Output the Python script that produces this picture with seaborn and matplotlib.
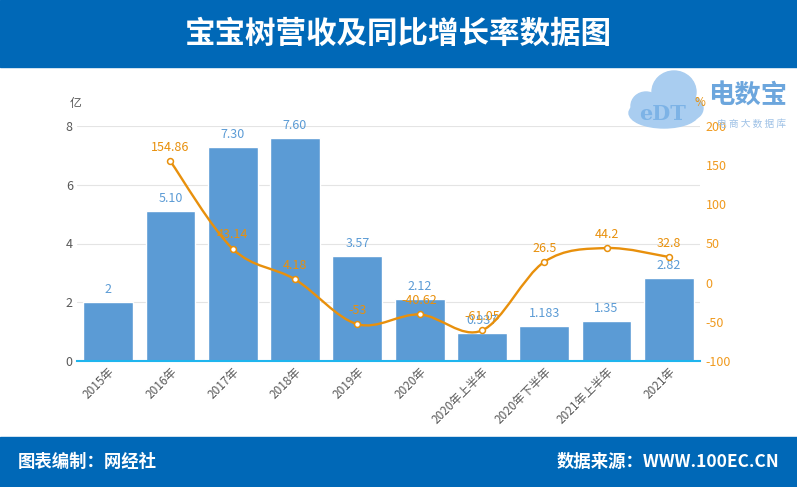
import numpy as np
import matplotlib
matplotlib.use('Agg')
import matplotlib.pyplot as plt
import seaborn as sns
from matplotlib.path import Path
from matplotlib.patches import PathPatch, Rectangle, Ellipse

#data
categories = ['2015年', '2016年', '2017年', '2018年', '2019年', '2020年',
              '2020年上半年', '2020年下半年', '2021年上半年', '2021年']
revenue = [2, 5.10, 7.30, 7.60, 3.57, 2.12, 0.937, 1.183, 1.35, 2.82]
revenue_labels = ['2', '5.10', '7.30', '7.60', '3.57', '2.12', '0.937', '1.183', '1.35', '2.82']
growth = [154.86, 43.14, 4.18, -53, -40.62, -61.05, 26.5, 44.2, 32.8]
growth_labels = ['154.86', '43.14', '4.18', '-53', '-40.62', '-61.05', '26.5', '44.2', '32.8']
left_ticks = [0, 2, 4, 6, 8]
right_ticks = [-100, -50, 0, 50, 100, 150, 200]

sns.set_style('white')
plt.rcParams['font.family'] = ['Noto Sans CJK SC', 'DejaVu Sans']

bar_blue = '#5B9BD5'
orange = '#E8900C'
gray = '#595959'
band = '#0068B7'

fig = plt.figure(figsize=(7.97, 4.87), dpi=100)
W, H = 797, 487

def fx(px):
    return px / W

def fy(py):
    return 1 - py / H

#header and footer bands
fig.patches.append(Rectangle((0, fy(67)), 1, 1 - fy(67), transform=fig.transFigure,
                             color=band, zorder=0))
fig.patches.append(Rectangle((0, 0), 1, fy(437), transform=fig.transFigure,
                             color=band, zorder=0))
fig.text(0.5, fy(34), '宝宝树营收及同比增长率数据图', color='white', fontsize=22,
         fontweight='bold', ha='center', va='center')
fig.text(fx(18), fy(462), '图表编制：网经社', color='white', fontsize=12.5,
         fontweight='bold', ha='left', va='center')
fig.text(fx(779), fy(462), '数据来源：WWW.100EC.CN', color='white', fontsize=12.5,
         fontweight='bold', ha='right', va='center')

#logo, roughly
cloud = '#A9CDF0'
for cx, cy, w, h in [(664, 113, 70, 30), (674, 92, 44, 42), (646, 106, 30, 28), (692, 108, 22, 22)]:
    fig.patches.append(Ellipse((fx(cx), fy(cy)), w / W, h / H, transform=fig.transFigure,
                               color=cloud, zorder=1))
fig.text(fx(663), fy(114), 'eDT', color='#7DB3E6', fontsize=15, fontweight='bold',
         family='DejaVu Serif', ha='center', va='center', zorder=2)
fig.text(fx(748), fy(96), '电数宝', color='#6CA6DD', fontsize=19, fontweight='bold',
         ha='center', va='center')
fig.text(fx(752), fy(124), '电 商 大 数 据 库', color='#9EC1E6', fontsize=7,
         ha='center', va='center')

#main axes
ax = fig.add_axes([fx(77), fy(361), fx(700) - fx(77), fy(126) - fy(361)])
sns.barplot(x=categories, y=revenue, color=bar_blue, saturation=1, width=0.8, ax=ax, zorder=2)
ax.set_xlim(-0.5, len(categories) - 0.5)
ax.set_ylim(0, 8)
ax.set_yticks(left_ticks)
ax.set_yticklabels([str(t) for t in left_ticks], color=gray, fontsize=9)
ax.grid(axis='y', color='#E4E4E4', linewidth=0.8)
ax.set_axisbelow(True)
ax.set_xlabel('')
ax.set_ylabel('')
for s in ['top', 'left', 'right']:
    ax.spines[s].set_visible(False)
ax.spines['bottom'].set_color('#1FB5EE')
ax.spines['bottom'].set_linewidth(1.5)
ax.tick_params(axis='both', length=0, pad=3)
ax.set_xticks(range(len(categories)))
ax.set_xticklabels(categories, rotation=45, ha='right', rotation_mode='anchor',
                   color=gray, fontsize=8.5)

for i, (v, lab) in enumerate(zip(revenue, revenue_labels)):
    ax.annotate(lab, (i, v), xytext=(0, 9), textcoords='offset points',
                ha='center', va='center', color=bar_blue, fontsize=9, zorder=3)

#growth line on right axis
ax2 = ax.twinx()
ax2.set_ylim(-100, 200)
ax2.set_yticks(right_ticks)
ax2.set_yticklabels([str(t) for t in right_ticks], color='#F09A1E', fontsize=9)
ax2.tick_params(axis='y', length=0, pad=4)
for s in ax2.spines.values():
    s.set_visible(False)

xs = np.arange(1, len(categories))
ys = np.array(growth)

#smoothed path like Excel's smooth line (Catmull-Rom as bezier segments)
verts = [(xs[0], ys[0])]
codes = [Path.MOVETO]
n = len(xs)
for k in range(n - 1):
    p0 = np.array([xs[max(k - 1, 0)], ys[max(k - 1, 0)]])
    p1 = np.array([xs[k], ys[k]])
    p2 = np.array([xs[k + 1], ys[k + 1]])
    p3 = np.array([xs[min(k + 2, n - 1)], ys[min(k + 2, n - 1)]])
    c1 = p1 + (p2 - p0) / 6
    c2 = p2 - (p3 - p1) / 6
    verts += [tuple(c1), tuple(c2), tuple(p2)]
    codes += [Path.CURVE4] * 3
ax2.add_patch(PathPatch(Path(verts, codes), facecolor='none', edgecolor=orange,
                        linewidth=1.7, zorder=3))

sns.scatterplot(x=xs, y=ys, ax=ax2, marker='o', s=18, color='white',
                edgecolor=orange, linewidth=1.1, zorder=4, legend=False)
ax2.set_xlim(-0.5, len(categories) - 0.5)

for x, v, lab in zip(xs, ys, growth_labels):
    ax2.annotate(lab, (x, v), xytext=(0, 10), textcoords='offset points',
                 ha='center', va='center', color=orange, fontsize=9, zorder=5)

fig.text(fx(76), fy(104), '亿', color=gray, fontsize=8.5, ha='center', va='center')
fig.text(fx(700), fy(103), '%', color=orange, fontsize=8.5, ha='center', va='center')

fig.savefig('out.png', dpi=100)
